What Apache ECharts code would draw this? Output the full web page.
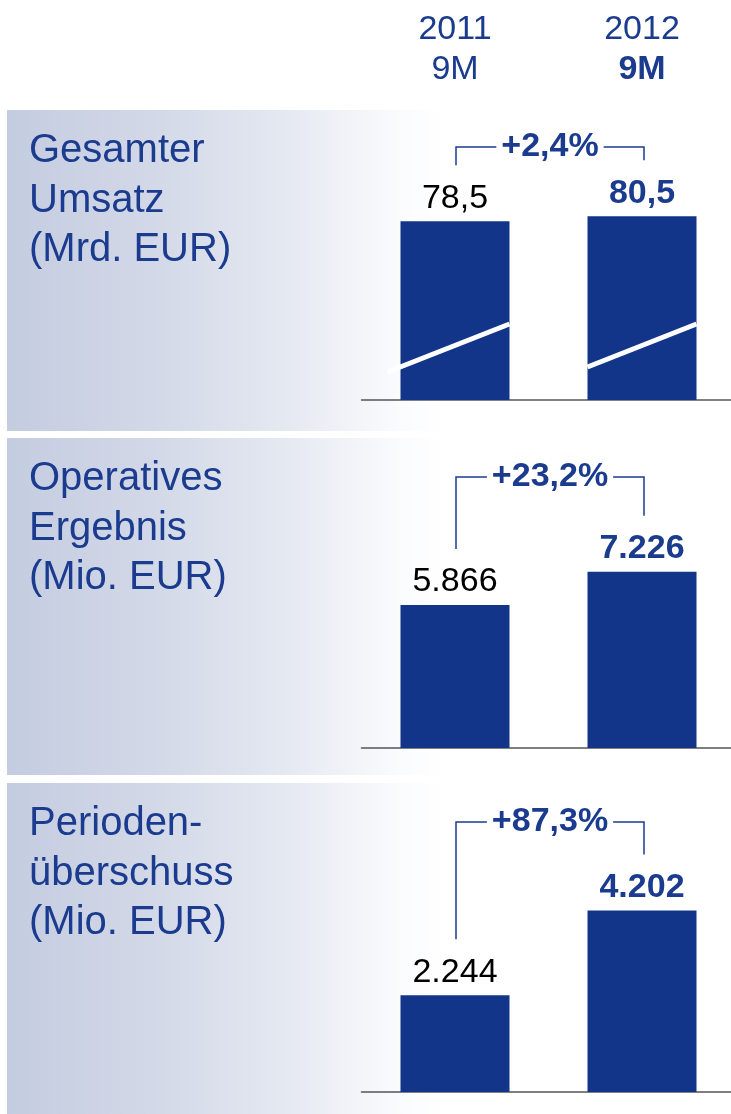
<!DOCTYPE html>
<html><head><meta charset="utf-8">
<script src="https://cdn.jsdelivr.net/npm/echarts@6/dist/echarts.min.js"></script>
<style>html,body{margin:0;padding:0;background:#fff}#c{width:731px;height:1114px}</style>
</head><body><div id="c"></div>
<script>
// ---- data ----
const periods = ['2011', '2012'];
const periodSub = ['9M', '9M'];
const panelTitles = ['Gesamter\nUmsatz\n(Mrd. EUR)', 'Operatives\nErgebnis\n(Mio. EUR)', 'Perioden-\nüberschuss\n(Mio. EUR)'];
const umsatz = [78.5, 80.5];
const operativesErgebnis = [5866, 7226];
const periodenueberschuss = [2244, 4202];
const growthPct = [2.4, 23.2, 87.3];

// ---- layout / style ----
const FONT = '"Liberation Sans", Arial, sans-serif';
const BLUE = '#12358a';
const TXT = '#1b3b8f';
const panels = [
  { values: umsatz, top: 110, bottom: 431, gridTop: 110, gridBottom: 400, yMin: 7, yMax: 123, bracketY: 147, broken: true, dec: 1 },
  { values: operativesErgebnis, top: 438, bottom: 775, gridTop: 448, gridBottom: 748, yMin: 0, yMax: 12300, bracketY: 477, dec: 0 },
  { values: periodenueberschuss, top: 783, bottom: 1114, gridTop: 792, gridBottom: 1092, yMin: 0, yMax: 6950, bracketY: 822, dec: 0 }
];
function fmt(v, dec) {
  const parts = v.toFixed(dec).split('.');
  parts[0] = parts[0].replace(/\B(?=(\d{3})+(?!\d))/g, '.');
  return parts.join(',');
}

const chart = echarts.init(document.getElementById('c'), null, { renderer: 'canvas' });

const grids = panels.map(p => ({ left: 361.5, width: 374, top: p.gridTop, height: p.gridBottom - p.gridTop, containLabel: false, outerBoundsMode: 'none' }));
const xAxes = panels.map((p, i) => ({
  type: 'category', gridIndex: i, data: periods,
  axisLine: { show: true, lineStyle: { color: '#555', width: 1.5 } },
  axisTick: { show: false }, axisLabel: { show: false }, splitLine: { show: false }
}));
xAxes.push({
  type: 'category', gridIndex: 0, position: 'top', data: periods,
  axisLine: { show: false }, axisTick: { show: false }, splitLine: { show: false },
  axisLabel: {
    margin: 20, fontFamily: FONT,
    formatter: (v, idx) => idx === 1 ? '{n|' + v + '}\n{b|' + periodSub[idx] + '}' : '{n|' + v + '}\n{n|' + periodSub[idx] + '}',
    rich: {
      n: { fontSize: 34, color: TXT, fontFamily: FONT, lineHeight: 40 },
      b: { fontSize: 34, color: TXT, fontFamily: FONT, fontWeight: 'bold', lineHeight: 40 }
    }
  }
});
const yAxes = panels.map((p, i) => ({ type: 'value', gridIndex: i, min: p.yMin, max: p.yMax, show: false, splitLine: { show: false } }));

const series = panels.map((p, i) => ({
  type: 'bar', xAxisIndex: i, yAxisIndex: i, barWidth: 109,
  itemStyle: { color: BLUE },
  label: { show: true, position: 'top', distance: 6, fontSize: 34, fontFamily: FONT, formatter: (prm) => fmt(prm.value, p.dec) },
  data: p.values.map((v, j) => ({
    value: v,
    label: j === 0 ? { color: '#000', fontWeight: 'normal' } : { color: TXT, fontWeight: 'bold' }
  })),
  animation: false
}));

chart.setOption({
  animation: false,
  backgroundColor: '#fff',
  grid: grids, xAxis: xAxes, yAxis: yAxes, series: series
});

// ---- decorations computed from the chart's own scales ----
const gfx = [];
panels.forEach((p, i) => {
  gfx.push({
    type: 'rect', z: -100, silent: true,
    shape: { x: 7, y: p.top, width: 724, height: p.bottom - p.top },
    style: { fill: new echarts.graphic.LinearGradient(0, 0, 1, 0, [
      { offset: 0, color: '#c4cce0' },
      { offset: 0.2, color: '#d2d8e7' },
      { offset: 0.38, color: '#e4e8f1' },
      { offset: 0.54, color: '#fafbfd' },
      { offset: 0.6, color: '#ffffff' },
      { offset: 1, color: '#ffffff' }
    ]) }
  });
  gfx.push({
    type: 'text', z: 10, silent: true, x: 29, y: p.top + 16.5,
    style: { text: panelTitles[i], fontSize: 40, lineHeight: 49.5, fontFamily: FONT, fill: TXT, verticalAlign: 'top', align: 'left' }
  });
  const a = chart.convertToPixel({ xAxisIndex: i, yAxisIndex: i }, [0, p.values[0]]);
  const b = chart.convertToPixel({ xAxisIndex: i, yAxisIndex: i }, [1, p.values[1]]);
  const base = chart.convertToPixel({ xAxisIndex: i, yAxisIndex: i }, [0, p.yMin])[1];
  const lx = a[0] + 1, rx = b[0] + 2;
  gfx.push({
    type: 'polyline', z: 10, silent: true,
    shape: { points: [[lx, a[1] - 56], [lx, p.bracketY], [rx, p.bracketY], [rx, b[1] - 56]] },
    style: { stroke: TXT, lineWidth: 1.5, fill: null }
  });
  gfx.push({
    type: 'text', z: 11, silent: true, x: (lx + rx) / 2, y: p.bracketY,
    style: { text: '+' + fmt(growthPct[i], 1) + '%', fontSize: 34, fontWeight: 'bold', fontFamily: FONT, fill: TXT,
      align: 'center', verticalAlign: 'middle', backgroundColor: '#fff', padding: [0, 5] }
  });
  if (p.broken) {
    const half = 54.5;
    gfx.push({ type: 'line', z: 20, silent: true,
      shape: { x1: a[0] - half - 13, y1: base - 28, x2: a[0] + half, y2: base - 76 },
      style: { stroke: '#fff', lineWidth: 5 } });
    gfx.push({ type: 'line', z: 20, silent: true,
      shape: { x1: b[0] - half, y1: base - 33, x2: b[0] + half, y2: base - 76 },
      style: { stroke: '#fff', lineWidth: 5 } });
  }
});
chart.setOption({ graphic: { elements: gfx } });
</script></body></html>
